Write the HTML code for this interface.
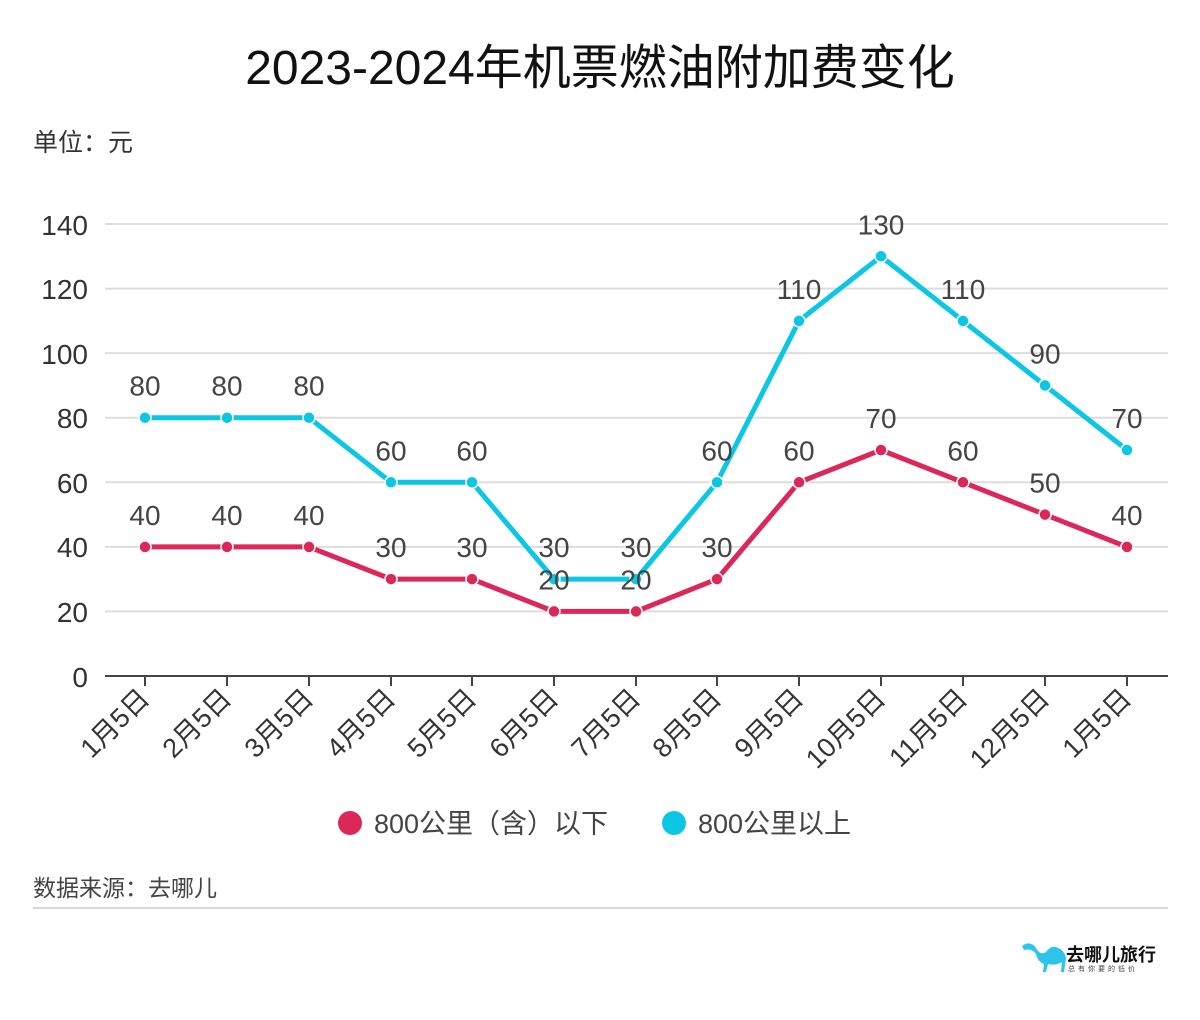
<!DOCTYPE html>
<html><head><meta charset="utf-8"><style>
html,body{margin:0;padding:0;background:#fff;}
svg{display:block;font-family:"Liberation Sans","Noto Sans CJK SC",sans-serif;}
</style></head><body>
<svg width="1200" height="1020" xmlns="http://www.w3.org/2000/svg">
<text x="600" y="84" text-anchor="middle" font-size="48" fill="#111">2023-2024年机票燃油附加费变化</text>
<text x="33" y="151" font-size="25" fill="#333">单位：元</text>
<g stroke="#ddd" stroke-width="2">
<line x1="105" x2="1168" y1="224" y2="224"/><line x1="105" x2="1168" y1="288.6" y2="288.6"/><line x1="105" x2="1168" y1="353.1" y2="353.1"/><line x1="105" x2="1168" y1="417.7" y2="417.7"/><line x1="105" x2="1168" y1="482.3" y2="482.3"/><line x1="105" x2="1168" y1="546.9" y2="546.9"/><line x1="105" x2="1168" y1="611.4" y2="611.4"/>
</g>
<g font-size="28" fill="#333" text-anchor="end">
<text x="88" y="235">140</text><text x="88" y="299">120</text><text x="88" y="364">100</text><text x="88" y="428">80</text><text x="88" y="493">60</text><text x="88" y="557">40</text><text x="88" y="622">20</text><text x="88" y="687">0</text>
</g>
<line x1="105" x2="1168" y1="676" y2="676" stroke="#444" stroke-width="2"/>
<g id="ticks"></g>
<g id="content"></g>
<circle cx="350" cy="823" r="12" fill="#dc2858"/>
<text x="374" y="833" font-size="27" fill="#444">800公里（含）以下</text>
<circle cx="674" cy="823" r="12" fill="#0bc7e4"/>
<text x="698" y="833" font-size="27" fill="#444">800公里以上</text>
<text x="33" y="896" font-size="23" fill="#444">数据来源：去哪儿</text>
<line x1="33" x2="1168" y1="908" y2="908" stroke="#ccc" stroke-width="1.5"/>
<path d="M1022 946 q8-6 14 2 q4 8 10 4 q6-8 12-4 q6 2 8 10 l-2 14 l-3 0 l1-10 q-6 4-14 2 l-2 8 l-3 0 l1-8 q-6-2-8-10 q-4-6-12-4 z" fill="#2ec3e8"/>
<text x="1066" y="961" font-size="18" font-weight="bold" fill="#111">去哪儿旅行</text>
<text x="1068" y="971" font-size="7" fill="#444" letter-spacing="3">总有你要的低价</text>
</svg>
<script>
(function(){
var xs=[145,227,309,391,472,554,636,717,799,881,963,1045,1127];
var lab=["1月5日","2月5日","3月5日","4月5日","5月5日","6月5日","7月5日","8月5日","9月5日","10月5日","11月5日","12月5日","1月5日"];
var r=[40,40,40,30,30,20,20,30,60,70,60,50,40];
var c=[80,80,80,60,60,30,30,60,110,130,110,90,70];
function y(v){return 676-v*3.2286;}
var s="";
xs.forEach(function(x,i){
 s+='<line x1="'+x+'" x2="'+x+'" y1="676" y2="686" stroke="#444" stroke-width="2"/>';
 s+='<text transform="translate('+(x+6)+',700) rotate(-45)" text-anchor="end" font-size="27" fill="#333">'+lab[i]+'</text>';
});
function series(d,col){
 var p=d.map(function(v,i){return xs[i]+','+y(v).toFixed(1);}).join(' ');
 var o='<polyline points="'+p+'" fill="none" stroke="'+col+'" stroke-width="5" stroke-linejoin="round"/>';
 d.forEach(function(v,i){o+='<circle cx="'+xs[i]+'" cy="'+y(v).toFixed(1)+'" r="6" fill="'+col+'" stroke="#fff" stroke-width="1.5"/>';});
 return o;
}
var t='';
[r,c].forEach(function(d){d.forEach(function(v,i){t+='<text x="'+xs[i]+'" y="'+(y(v)-22).toFixed(1)+'" text-anchor="middle" font-size="28" fill="#444">'+v+'</text>';});});
document.getElementById('ticks').outerHTML=s;
document.getElementById('content').outerHTML=series(c,"#0bc7e4")+series(r,"#dc2858")+t;
})();
</script>
</body></html>
